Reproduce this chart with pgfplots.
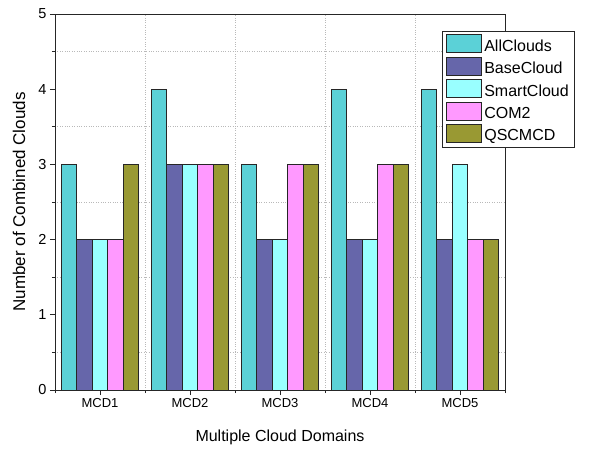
\documentclass[border=0pt]{standalone}
\usepackage{pgfplots}
\pgfplotsset{compat=1.18}
\usepackage{fontspec}
\setmainfont{Liberation Sans}
\definecolor{cAll}{HTML}{5BD1D7}
\definecolor{cBase}{HTML}{6666AA}
\definecolor{cSmart}{HTML}{99FFFF}
\definecolor{cCom}{HTML}{FF99FF}
\definecolor{cQs}{HTML}{999933}
\begin{document}
\begin{tikzpicture}
\begin{axis}[
  name=ax,
  scale only axis,
  width=450pt, height=376pt,
  xmin=-0.5, xmax=4.5,
  ymin=0, ymax=5,
  xtick={0,1,2,3,4},
  xticklabels={MCD1,MCD2,MCD3,MCD4,MCD5},
  minor xtick={-0.5,0.5,1.5,2.5,3.5,4.5},
  ytick={0,1,2,3,4,5},
  minor ytick={0.5,1.5,2.5,3.5,4.5},
  tick align=outside,
  major tick length=5pt,
  minor tick length=3pt,
  xtick pos=bottom, ytick pos=left,
  xminorgrids=true, yminorgrids=true,
  minor grid style={dotted, gray!55, line width=0.6pt},
  axis line style={line width=0.9pt, black!85},
  every tick/.style={black!85, line width=0.8pt},
  /pgf/number format/assume math mode=true,
  xticklabel style={font=\fontsize{13}{15}\selectfont},
  yticklabel style={font=\fontsize{14.5}{16}\selectfont},
  xlabel={Multiple Cloud Domains},
  ylabel={Number of Combined Clouds},
  xlabel style={font=\fontsize{16}{19}\selectfont, at={(axis description cs:0.5,0)}, anchor=center, yshift=-47pt},
  ylabel style={font=\fontsize{17}{20}\selectfont, at={(axis description cs:0,0.5)}, anchor=center, yshift=36pt},
  ybar=0pt,
  bar width=0.171,
  every axis plot/.append style={draw=black!85, line width=0.9pt},
  legend style={at={(0.86,0.955)}, anchor=north west, font=\fontsize{16}{19}\selectfont,
    draw=black!85, line width=0.8pt, row sep=2pt, inner xsep=4pt, inner ysep=3pt, fill=white},
  legend cell align=left,
  legend image code/.code={\draw[#1] (0pt,-6.5pt) rectangle (35pt,11.5pt);},
]
\addplot[fill=cAll] coordinates {(0,3) (1,4) (2,3) (3,4) (4,4)};
\addplot[fill=cBase] coordinates {(0,2) (1,3) (2,2) (3,2) (4,2)};
\addplot[fill=cSmart] coordinates {(0,2) (1,3) (2,2) (3,2) (4,3)};
\addplot[fill=cCom] coordinates {(0,2) (1,3) (2,3) (3,3) (4,2)};
\addplot[fill=cQs] coordinates {(0,3) (1,3) (2,3) (3,3) (4,2)};
\legend{AllClouds,BaseCloud,SmartCloud,COM2,QSCMCD}
\end{axis}
\path ([xshift=-55pt,yshift=-60pt]ax.south west) rectangle ([xshift=92pt,yshift=14pt]ax.north east);
\end{tikzpicture}
\end{document}
